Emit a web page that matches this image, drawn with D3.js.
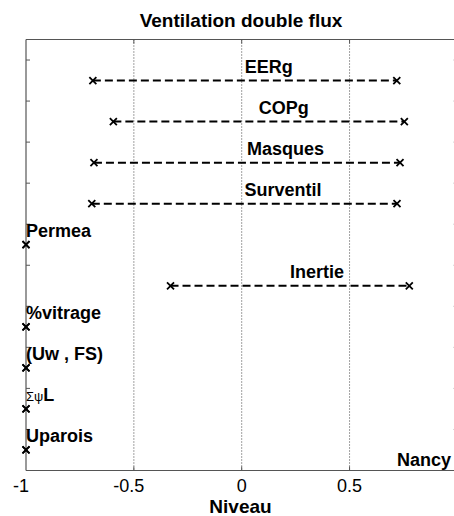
<!DOCTYPE html>
<html><head><meta charset="utf-8">
<script src="https://cdn.jsdelivr.net/npm/d3@7"></script>
<style>html,body{margin:0;padding:0;background:#fff;}svg{display:block;font-family:"Liberation Sans",Arial,sans-serif;}</style>
</head><body><div id="chart"></div>
<script>
const title = "Ventilation double flux";
const xLabel = "Niveau";
const cornerLabel = "Nancy";
const categories = ["Uparois", "ΣψL", "(Uw , FS)", "%vitrage", "Inertie", "Permea", "Surventil", "Masques", "COPg", "EERg"];
const rowPos = [0.5, 1.5, 2.5, 3.5, 4.5, 5.5, 6.5, 7.5, 8.5, 9.5];
const minVals = [-1, -1, -1, -1, -0.33, -1, -0.695, -0.685, -0.595, -0.69];
const maxVals = [-1, -1, -1, -1, 0.777, -1, 0.72, 0.734, 0.754, 0.719];
const xTicks = [-1, -0.5, 0, 0.5];
const xTickLabels = ["-1", "-0.5", "0", "0.5"];
const gridVals = [-0.5, 0, 0.5];
const yTicks = [1, 2, 3, 4, 5, 6, 7, 8, 9, 10];

const W = 454, H = 516;
const svg = d3.select("#chart").append("svg").attr("width", W).attr("height", H);
const x = d3.scaleLinear().domain([-1, 1]).range([26, 457.4]);
const y = d3.scaleLinear().domain([0, 10.5]).range([470.5, 39.5]);
const axisCol = "#555";

// grid
svg.append("g").selectAll("line").data(gridVals).join("line")
  .attr("x1", d => x(d)).attr("x2", d => x(d))
  .attr("y1", y(10.5)).attr("y2", y(0))
  .attr("stroke", "#444").attr("stroke-width", 1).attr("stroke-dasharray", "1,2");

// box lines
const box = svg.append("g").attr("stroke", axisCol).attr("stroke-width", 1.2).attr("fill", "none");
box.append("line").attr("x1", x(-1)).attr("x2", x(1)).attr("y1", y(10.5)).attr("y2", y(10.5));
box.append("line").attr("x1", x(-1)).attr("x2", x(1)).attr("y1", y(0)).attr("y2", y(0));
box.append("line").attr("x1", x(-1)).attr("x2", x(-1)).attr("y1", y(10.5)).attr("y2", y(0));
box.append("line").attr("x1", x(1)).attr("x2", x(1)).attr("y1", y(10.5)).attr("y2", y(0));

// inward ticks
const tl = 4;
const tg = svg.append("g").attr("stroke", axisCol).attr("stroke-width", 1);
yTicks.forEach(v => {
  tg.append("line").attr("x1", x(-1)).attr("x2", x(-1) + tl).attr("y1", y(v)).attr("y2", y(v));
  tg.append("line").attr("x1", x(1)).attr("x2", x(1) - tl).attr("y1", y(v)).attr("y2", y(v)).attr("stroke", "#bbb");
});
gridVals.forEach(v => {
  tg.append("line").attr("x1", x(v)).attr("x2", x(v)).attr("y1", y(0)).attr("y2", y(0) - tl);
  tg.append("line").attr("x1", x(v)).attr("x2", x(v)).attr("y1", y(10.5)).attr("y2", y(10.5) + tl);
});

// x tick labels
svg.append("g").selectAll("text").data(xTicks).join("text")
  .attr("x", d => x(d)).attr("y", 492)
  .attr("dx", (d, i) => xTickLabels[i].startsWith("-") ? -5 : 0)
  .attr("text-anchor", "middle").attr("font-size", 18).attr("fill", "#000")
  .text((d, i) => xTickLabels[i]);

// ranges
const rows = categories.map((c, i) => ({c, p: rowPos[i], lo: minVals[i], hi: maxVals[i]}));
svg.append("g").selectAll("line").data(rows.filter(r => r.hi > r.lo)).join("line")
  .attr("x1", d => x(d.lo)).attr("x2", d => x(d.hi))
  .attr("y1", d => y(d.p)).attr("y2", d => y(d.p))
  .attr("stroke", "#000").attr("stroke-width", 2).attr("stroke-dasharray", "8,4");

// markers
const m = 3.5;
const mk = svg.append("g").attr("stroke", "#000").attr("stroke-width", 1.8);
rows.forEach(r => {
  [r.lo, r.hi].forEach(v => {
    const cx = x(v), cy = y(r.p);
    mk.append("path").attr("d", `M${cx - m},${cy - m}L${cx + m},${cy + m}M${cx - m},${cy + m}L${cx + m},${cy - m}`);
  });
});

// labels
const lg = svg.append("g").attr("font-weight", "bold").attr("font-size", 18).attr("fill", "#000");
rows.forEach(r => {
  const t = lg.append("text").attr("x", x((r.lo + r.hi) / 2)).attr("y", y(r.p) - 8);
  if (r.c === "ΣψL") {
    t.append("tspan").attr("font-weight", "normal").attr("font-size", 13).text("Σψ");
    t.append("tspan").text("L");
  } else {
    t.text(r.c);
  }
});

// corner label
svg.append("text").attr("x", x(0.72)).attr("y", 466)
  .attr("font-weight", "bold").attr("font-size", 18).text(cornerLabel);

// title & x label
svg.append("text").attr("x", 241).attr("y", 27).attr("text-anchor", "middle")
  .attr("font-weight", "bold").attr("font-size", 19).text(title);
svg.append("text").attr("x", 240.5).attr("y", 513).attr("text-anchor", "middle")
  .attr("font-weight", "bold").attr("font-size", 19).text(xLabel);
</script></body></html>
